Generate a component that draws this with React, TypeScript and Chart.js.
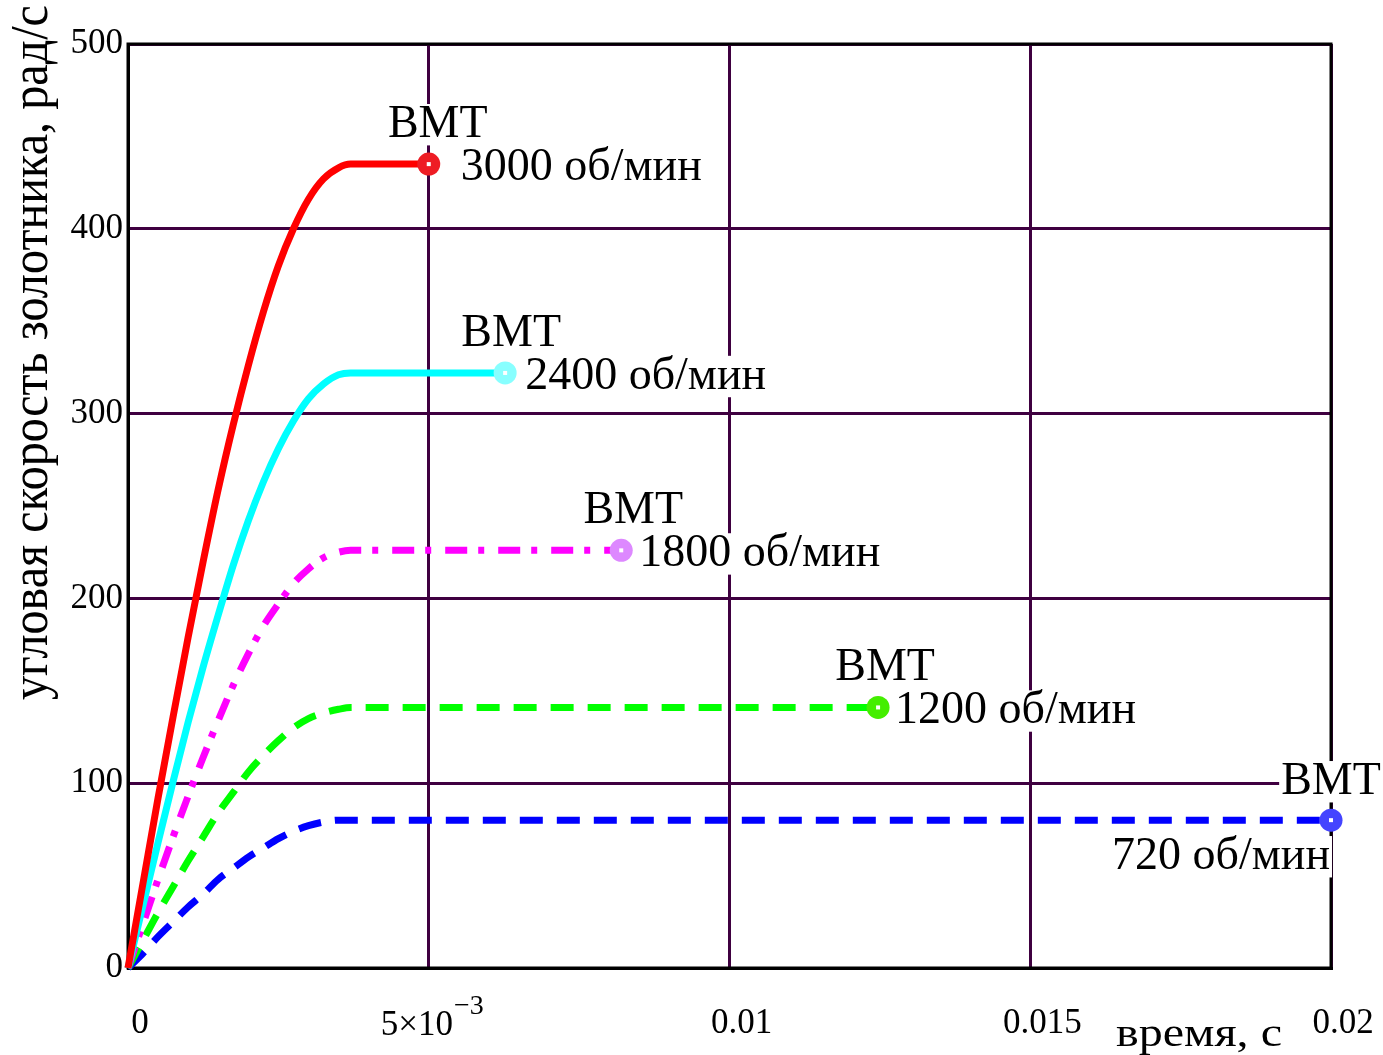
import React, { useEffect, useRef } from 'react';
import { Chart, registerables } from 'chart.js';

Chart.register(...registerables);

// time samples along the rising part of each curve (s)
const riseTimes = [0, 0.00025, 0.0005, 0.00075, 0.001, 0.00125, 0.0015, 0.00175, 0.002, 0.00225, 0.0025, 0.00275, 0.003, 0.00325, 0.0035, 0.0037];
// angular speed of the spool (rad/s)
const speed3000 = [0, 46, 92, 136, 179, 220, 259, 294, 326, 355, 380, 400, 416, 427, 433, 435];
const speed2400 = [0, 34, 68, 101, 133, 163, 191, 218, 242, 263, 281, 296, 308, 316, 321, 322];
const speed1800 = [0, 24, 48, 71, 93, 114, 134, 153, 170, 185, 197, 208, 216, 222, 225, 226];
const speed1200 = [0, 15, 30, 44, 58, 71, 84, 95, 106, 115, 123, 130, 135, 138, 140, 141];
const speed720 = [0, 8, 17, 25, 33, 40, 48, 54, 60, 65, 70, 74, 77, 79, 80, 80];
// top dead centre (ВМТ) points: time and speed
const tdcTimes = [0.005, 0.00627, 0.0082, 0.01247, 0.02];
const tdcSpeeds = [435, 322, 226, 141, 80];
const rpmLabels = ['3000 об/мин', '2400 об/мин', '1800 об/мин', '1200 об/мин', '720 об/мин'];
const tdcLabel = 'ВМТ';
const xTicks = [0, 0.005, 0.01, 0.015, 0.02];
const xTickLabels = ['0', '', '0.01', '0.015', '0.02'];
const yTicks = [0, 100, 200, 300, 400, 500];
const xTitle = 'время, с';
const yTitle = 'угловая скорость золотника, рад/с';

const seriesSpeeds = [speed3000, speed2400, speed1800, speed1200, speed720];
const lineColors = ['#ff0000', '#00ffff', '#ff00ff', '#00ff00', '#0000ff'];
const markerColors = ['#ee1c24', '#88ffff', '#dd88ff', '#44ee00', '#4444ff'];
const dashes: number[][] = [[], [], [22, 11, 6, 14], [23, 14], [23, 14]];
// label placement relative to the end marker (px)
const tdcOffsets = [[9, -27], [6, -27], [12, -27], [7, -27], [0, -26]];
const rpmOffsets = [[32, 16, 0], [20, 16, 0], [18, 16, 0], [17, 16, 0], [-1, 49, 1]];

const SERIF = '"Liberation Serif", "DejaVu Serif", serif';
const LABEL_SIZE = 46;

function drawBoxedText(ctx: CanvasRenderingContext2D, text: string, x: number, baseline: number, align: CanvasTextAlign, size: number) {
  ctx.font = `${size}px ${SERIF}`;
  ctx.textAlign = align;
  ctx.textBaseline = 'alphabetic';
  const w = ctx.measureText(text).width;
  let left = x;
  if (align === 'center') left = x - w / 2;
  else if (align === 'right') left = x - w;
  ctx.fillStyle = '#ffffff';
  ctx.fillRect(left - 2, baseline - size * 0.72, w + 4, size * 0.9);
  ctx.fillStyle = '#000000';
  ctx.fillText(text, x, baseline);
}

const overlayPlugin = {
  id: 'overlay',
  beforeDatasetsDraw(chart: any) {
    const { ctx, chartArea: a } = chart;
    ctx.save();
    ctx.strokeStyle = '#000000';
    ctx.lineWidth = 3;
    ctx.strokeRect(a.left, a.top, a.right - a.left, a.bottom - a.top);
    ctx.restore();
  },
  afterDatasetsDraw(chart: any) {
    const { ctx } = chart;
    const xs = chart.scales.x;
    ctx.save();
    chart.data.datasets.forEach((ds: any, i: number) => {
      const meta = chart.getDatasetMeta(i);
      const pt = meta.data[meta.data.length - 1];
      const px = pt.x;
      const py = pt.y;
      drawBoxedText(ctx, tdcLabel, px + tdcOffsets[i][0], py + tdcOffsets[i][1], 'center', LABEL_SIZE);
      drawBoxedText(ctx, rpmLabels[i], px + rpmOffsets[i][0], py + rpmOffsets[i][1], rpmOffsets[i][2] ? 'right' : 'left', LABEL_SIZE);
      ctx.fillStyle = '#ffffff';
      ctx.fillRect(px - 2, py - 2, 4, 4);
    });

    // 5×10^-3 tick label
    const x5 = xs.getPixelForValue(xTicks[1]);
    ctx.fillStyle = '#000000';
    ctx.textBaseline = 'alphabetic';
    ctx.textAlign = 'left';
    ctx.font = `35px ${SERIF}`;
    const main = '5×10';
    ctx.fillText(main, x5 - 48, 1035);
    const mw = ctx.measureText(main).width;
    ctx.font = `28px ${SERIF}`;
    ctx.fillText('−3', x5 - 48 + mw + 1, 1014);

    // x title
    ctx.font = `40px ${SERIF}`;
    const xw = ctx.measureText(xTitle).width;
    ctx.save();
    ctx.translate(1116, 1046);
    ctx.scale(166 / xw, 1);
    ctx.fillText(xTitle, 0, 0);
    ctx.restore();

    // y title
    ctx.font = `52px ${SERIF}`;
    const yw = ctx.measureText(yTitle).width;
    ctx.save();
    ctx.translate(47, 700);
    ctx.rotate(-Math.PI / 2);
    ctx.scale(695 / yw, 1);
    ctx.fillText(yTitle, 0, 0);
    ctx.restore();
    ctx.restore();
  },
};

export default function App() {
  const canvasRef = useRef<HTMLCanvasElement | null>(null);

  useEffect(() => {
    document.body.style.margin = '0';
    const canvas = canvasRef.current;
    if (!canvas) return;

    const datasets = seriesSpeeds.map((speeds, i) => {
      const pts = riseTimes.map((t, j) => ({ x: t, y: speeds[j] }));
      pts.push({ x: tdcTimes[i], y: tdcSpeeds[i] });
      const last = pts.length - 1;
      return {
        label: rpmLabels[i],
        data: pts,
        borderColor: lineColors[i],
        borderWidth: 7,
        borderDash: dashes[i],
        borderCapStyle: 'butt' as const,
        cubicInterpolationMode: 'monotone' as const,
        fill: false,
        clip: false as any,
        pointRadius: (c: any) => (c.dataIndex === last ? 11.5 : 0),
        pointHoverRadius: 0,
        pointBackgroundColor: markerColors[i],
        pointBorderWidth: 0,
        pointBorderColor: markerColors[i],
      };
    });

    const chart = new Chart(canvas, {
      type: 'line',
      data: { datasets },
      options: {
        animation: false,
        responsive: false,
        maintainAspectRatio: false,
        layout: { padding: { top: 44, right: 52, left: 0, bottom: 0 } },
        plugins: { legend: { display: false }, tooltip: { enabled: false } },
        scales: {
          x: {
            type: 'linear',
            min: 0,
            max: 0.02,
            afterBuildTicks: (s: any) => { s.ticks = xTicks.map((v) => ({ value: v })); },
            afterFit: (s: any) => { s.height = 87; s.paddingLeft = 0; s.paddingRight = 0; },
            grid: { color: '#3f0040', lineWidth: 3, drawTicks: false },
            border: { display: true, color: '#000000', width: 3 },
            ticks: {
              autoSkip: false,
              maxRotation: 0,
              padding: 35,
              labelOffset: 12,
              color: '#000000',
              font: { family: '"Liberation Serif", serif', size: 35 },
              callback: (_v: any, idx: number) => xTickLabels[idx],
            },
          },
          y: {
            type: 'linear',
            min: 0,
            max: 500,
            afterBuildTicks: (s: any) => { s.ticks = yTicks.map((v) => ({ value: v })); },
            afterFit: (s: any) => { s.width = 128; s.paddingTop = 0; s.paddingBottom = 0; },
            grid: { color: '#3f0040', lineWidth: 3, drawTicks: false },
            border: { display: true, color: '#000000', width: 3 },
            ticks: {
              padding: 5,
              color: '#000000',
              font: { family: '"Liberation Serif", serif', size: 35 },
              callback: (v: any) => String(v),
            },
          },
        },
      },
      plugins: [overlayPlugin],
    });

    return () => chart.destroy();
  }, []);

  return (
    <div style={{ position: 'absolute', left: 0, top: 0, width: 1383, height: 1055, background: '#ffffff' }}>
      <canvas ref={canvasRef} width={1383} height={1055} style={{ display: 'block', width: 1383, height: 1055 }} />
    </div>
  );
}
